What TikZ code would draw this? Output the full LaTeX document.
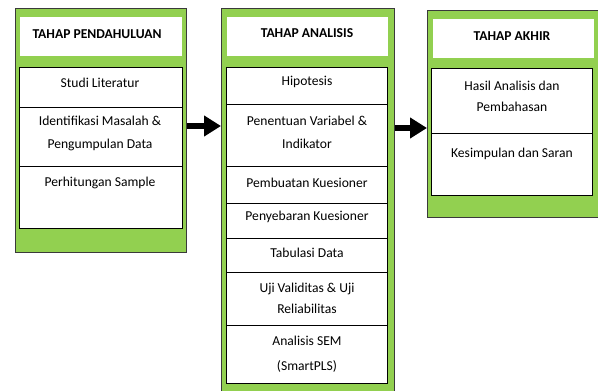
\documentclass[tikz,border=0pt]{standalone}
\usepackage{fontspec}
\setmainfont{Carlito}
\usetikzlibrary{arrows.meta}
\definecolor{panelgreen}{HTML}{92D050}
\definecolor{panelline}{HTML}{3A3A3A}
\newcommand{\boxat}[6]{%
  \node[#1, anchor=north west, inner sep=0pt, minimum width={(#5-#3)*1pt}, minimum height={(#6-#4)*1pt}] (#2) at (#3,#4) {};}
\begin{document}
\begin{tikzpicture}[x=1pt,y=-1pt,
  panel/.style={draw=panelline, line width=0.9pt, fill=panelgreen},
  titlebox/.style={fill=white},
  rowbox/.style={draw=black, line width=0.9pt, fill=white},
  txt/.style={font=\fontsize{13.6}{23}\selectfont, inner sep=0pt, align=center, text=black},
  ttl/.style={font=\fontsize{13.6}{15}\selectfont\bfseries, inner sep=0pt, text=black},
  bigarrow/.style={line width=6.5pt, -{Triangle[length=17pt,width=20pt]}}]
\useasboundingbox (0,0) rectangle (598,391);
\clip (0,0) rectangle (598,391);
% Panel 1
\boxat{panel}{p1}{15}{8}{186}{252}
\boxat{titlebox}{p1t}{20}{17}{182}{56}
\boxat{rowbox}{p1a}{19}{67}{182}{107}
\boxat{rowbox}{p1b}{19}{107}{182}{166}
\boxat{rowbox}{p1c}{19}{166}{182}{228}
\node[ttl] (t1) at (97,34) {TAHAP PENDAHULUAN};
\node[txt] (s1a) at (100,83) {Studi Literatur};
\node[txt] (s1b) at (100,133.5) {Identifikasi Masalah \&\\Pengumpulan Data};
\node[txt] (s1c) at (100,183) {Perhitungan Sample};
% Panel 2
\boxat{panel}{p2}{221}{8}{394}{400}
\boxat{titlebox}{p2t}{227}{17}{388}{56}
\boxat{rowbox}{p2a}{226}{67}{387}{104}
\boxat{rowbox}{p2b}{226}{104}{387}{166}
\boxat{rowbox}{p2c}{226}{166}{387}{203}
\boxat{rowbox}{p2d}{226}{203}{387}{238}
\boxat{rowbox}{p2e}{226}{238}{387}{272}
\boxat{rowbox}{p2f}{226}{272}{387}{325}
\boxat{rowbox}{p2g}{226}{325}{387}{383}
\node[ttl] (t2) at (307,33) {TAHAP ANALISIS};
\node[txt] (s2a) at (307,82) {Hipotesis};
\node[txt] (s2b) at (307,132) {Penentuan Variabel \&\\Indikator};
\node[txt] (s2c) at (307,183) {Pembuatan Kuesioner};
\node[txt] (s2d) at (307,217) {Penyebaran Kuesioner};
\node[txt] (s2e) at (307,253) {Tabulasi Data};
\node[txt, font=\fontsize{13.6}{21}\selectfont] (s2f) at (307,298.5) {Uji Validitas \& Uji\\Reliabilitas};
\node[txt, font=\fontsize{13.6}{25}\selectfont] (s2g) at (307,354.5) {Analisis SEM\\(SmartPLS)};
% Panel 3
\boxat{panel}{p3}{427}{10}{597.5}{217}
\boxat{titlebox}{p3t}{433}{19}{594}{58}
\boxat{rowbox}{p3a}{431}{68}{592}{133}
\boxat{rowbox}{p3b}{431}{133}{592}{195}
\node[ttl] (t3) at (512,36) {TAHAP AKHIR};
\node[txt, font=\fontsize{13.6}{21}\selectfont] (s3a) at (512,96.5) {Hasil Analisis dan\\Pembahasan};
\node[txt] (s3b) at (512,154) {Kesimpulan dan Saran};
% Arrows
\coordinate (h1) at (0,126);
\coordinate (h2) at (0,128);
\coordinate (a1) at (p1.east |- h1);
\coordinate (a2) at (p2.east |- h2);
\draw[bigarrow] (a1) -- (a1 -| p2.west);
\draw[bigarrow] (a2) -- (a2 -| p3.west);
\end{tikzpicture}
\end{document}
